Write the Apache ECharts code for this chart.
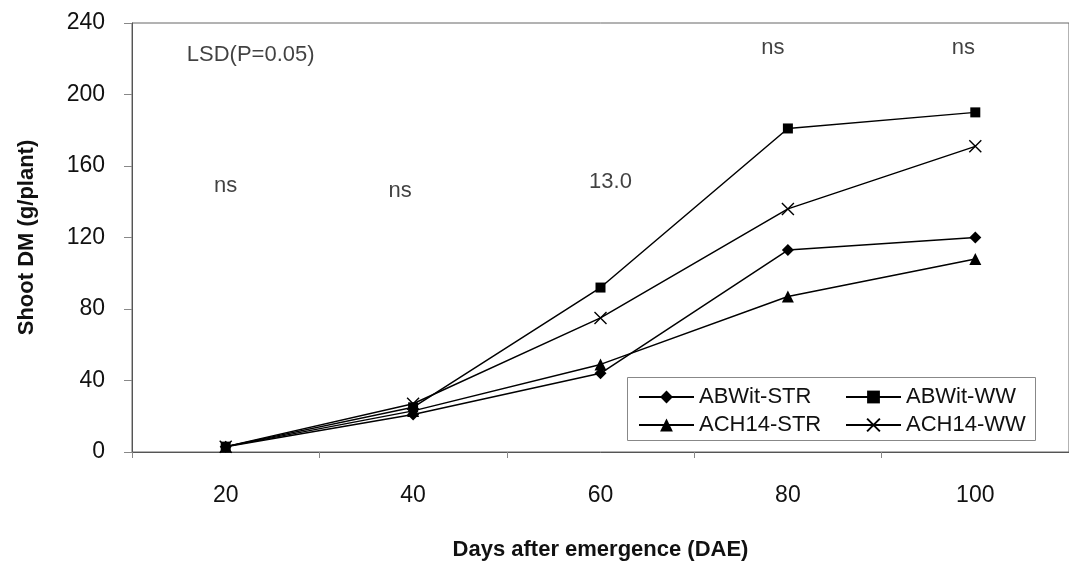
<!DOCTYPE html>
<html>
<head>
<meta charset="utf-8">
<script src="https://cdn.jsdelivr.net/npm/echarts@6/dist/echarts.min.js"></script>
<style>
  html, body { margin: 0; padding: 0; background: #fff; }
  #chart { width: 1069px; height: 568px; }
</style>
</head>
<body>
<div id="chart"></div>
<script>
// ---- data ----
const categories = ['20', '40', '60', '80', '100'];
const abwitStr = [3, 21, 44, 113, 120];
const abwitWw  = [3, 25, 92, 181, 190];
const ach14Str = [3, 23, 49, 87, 108];
const ach14Ww  = [3, 27, 75, 136, 171];
const yTicks = [0, 40, 80, 120, 160, 200, 240];
// LSD annotations: [category, value, text]
const lsdNotes = [
  ['20', 149, 'ns'],
  ['40', 146, 'ns'],
  ['60', 151, '13.0'],
  ['80', 226, 'ns'],
  ['100', 226, 'ns']
];
const lsdTitle = ['20', 222, 'LSD(P=0.05)'];

const FONT = '"Liberation Sans", Arial, sans-serif';
const crossPath = 'path://M0,0 L10,10 M10,0 L0,10';

function lineSeries(name, data, symbol, size, extra) {
  return Object.assign({
    name: name,
    type: 'line',
    data: data,
    symbol: symbol,
    symbolSize: size,
    showSymbol: true,
    lineStyle: { color: '#000', width: 1.5 },
    itemStyle: { color: '#000' },
    emphasis: { disabled: true },
    animation: false,
    z: 3
  }, extra || {});
}

const noteOffsets = [[0, 0], [-13, 0], [10, 0], [-15, 0], [-12, 0]];

function legendCol(left, names) {
  return {
    orient: 'vertical',
    left: left, top: 381,
    itemWidth: 55, itemHeight: 16, itemGap: 6,
    textStyle: { fontFamily: FONT, fontSize: 22, color: '#111' },
    data: names,
    selectedMode: false,
    z: 10
  };
}

const chart = echarts.init(document.getElementById('chart'), null, { renderer: 'canvas' });
chart.setOption({
  backgroundColor: '#fff',
  animation: false,
  textStyle: { fontFamily: FONT },
  grid: {
    left: 132, top: 23, right: -3, bottom: 116,
    show: true, borderColor: '#666', borderWidth: 1
  },
  xAxis: {
    type: 'category',
    data: categories,
    boundaryGap: true,
    name: 'Days after emergence (DAE)',
    nameLocation: 'middle',
    nameGap: 87,
    nameTextStyle: { fontFamily: FONT, fontSize: 22, fontWeight: 'bold', color: '#111' },
    axisLine: { show: true, lineStyle: { color: '#555', width: 1 } },
    axisTick: { show: true, alignWithLabel: false, length: 6, lineStyle: { color: '#888' } },
    axisLabel: { fontFamily: FONT, fontSize: 23, color: '#111', margin: 32 },
    splitLine: { show: false }
  },
  yAxis: {
    type: 'value',
    min: 0, max: 240, interval: 40,
    name: 'Shoot DM (g/plant)',
    nameLocation: 'middle',
    nameGap: 94,
    nameRotate: 90,
    nameTextStyle: { fontFamily: FONT, fontSize: 22, fontWeight: 'bold', color: '#111' },
    axisLine: { show: true, lineStyle: { color: '#555', width: 1 } },
    axisTick: { show: true, inside: false, length: 8, lineStyle: { color: '#888' } },
    axisLabel: {
      fontFamily: FONT, fontSize: 23, color: '#111', margin: 27,
      formatter: function (v) { return yTicks.indexOf(v) >= 0 ? String(v) : ''; }
    },
    splitLine: { show: false }
  },
  legend: [
    legendCol(633, ['ABWit-STR', 'ACH14-STR']),
    legendCol(840, ['ABWit-WW', 'ACH14-WW'])
  ],
  graphic: [
    {
      type: 'rect',
      left: 627, top: 377,
      shape: { width: 408, height: 63 },
      style: { fill: '#fff', stroke: '#888', lineWidth: 1 },
      z: 1
    }
  ],
  series: [
    lineSeries('ABWit-STR', abwitStr, 'diamond', 12),
    lineSeries('ABWit-WW', abwitWw, 'rect', 10),
    lineSeries('ACH14-STR', ach14Str, 'triangle', 12),
    lineSeries('ACH14-WW', ach14Ww, crossPath, 12, {
      itemStyle: { color: 'rgba(0,0,0,0)', borderColor: '#000', borderWidth: 1.4 }
    }),
    {
      type: 'scatter',
      name: 'notes',
      symbolSize: 0,
      silent: true,
      animation: false,
      data: lsdNotes.map(function (n, i) {
        return {
          value: [n[0], n[1]],
          label: { offset: noteOffsets[i] },
          text: n[2]
        };
      }).concat([{
        value: [lsdTitle[0], lsdTitle[1]],
        label: { offset: [25, 0] },
        text: lsdTitle[2]
      }]),
      label: {
        show: true,
        position: 'inside',
        fontFamily: FONT,
        fontSize: 22,
        color: '#111',
        formatter: function (p) { return p.data.text; }
      }
    }
  ]
});
</script>
</body>
</html>
